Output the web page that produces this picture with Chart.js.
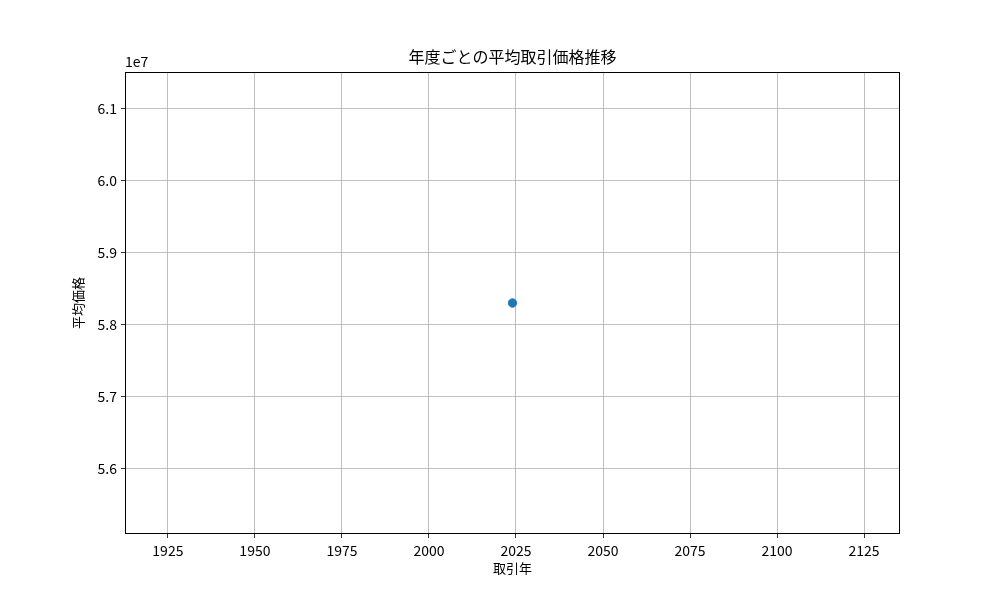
<!DOCTYPE html>
<html><head><meta charset="utf-8">
<script src="https://cdn.jsdelivr.net/npm/chart.js@4"></script>
<style>html,body{margin:0;padding:0;background:#fff}#wrap{width:1000px;height:600px}</style>
</head><body><div id="wrap"><canvas id="c" width="1000" height="600"></canvas></div>
<script>
const years = [2024];
const avgPrice = [58300000];
const xTicks = [1925, 1950, 1975, 2000, 2025, 2050, 2075, 2100, 2125];
const yTicks = [56000000, 57000000, 58000000, 59000000, 60000000, 61000000];
const titleText = '年度ごとの平均取引価格推移';
const xLabel = '取引年';
const yLabel = '平均価格';
const offsetText = '1e7';

const FONT = '"Noto Sans CJK JP", "DejaVu Sans", sans-serif';

const textPlugin = {
  id: 'texts',
  afterDraw(chart) {
    const {ctx, chartArea: a} = chart;
    ctx.save();
    ctx.strokeStyle = '#000';
    ctx.lineWidth = 1;
    ctx.strokeRect(a.left + 0.5, a.top + 0.5, a.right - a.left - 1, a.bottom - a.top - 1);
    ctx.fillStyle = '#000';
    ctx.textAlign = 'center';
    ctx.textBaseline = 'middle';
    ctx.font = '16px ' + FONT;
    ctx.fillText(titleText, (a.left + a.right) / 2, 57);
    ctx.font = '13px ' + FONT;
    ctx.fillText(xLabel, (a.left + a.right) / 2, 568);
    ctx.save();
    ctx.translate(78, (a.top + a.bottom) / 2);
    ctx.rotate(-Math.PI / 2);
    ctx.fillText(yLabel, 0, 0);
    ctx.restore();
    ctx.textAlign = 'left';
    ctx.font = '14px ' + FONT;
    ctx.fillText(offsetText, a.left, 62);
    ctx.restore();
  }
};

new Chart(document.getElementById('c'), {
  type: 'scatter',
  data: {
    datasets: [{
      data: years.map((y, i) => ({x: y, y: avgPrice[i]})),
      backgroundColor: '#1f77b4',
      borderColor: '#1f77b4',
      pointRadius: 4.2,
      pointHoverRadius: 4.2
    }]
  },
  options: {
    responsive: false,
    animation: false,
    layout: {padding: {left: 0, right: 100, top: 72, bottom: 0}},
    plugins: {legend: {display: false}, tooltip: {enabled: false}, title: {display: false}},
    scales: {
      x: {
        type: 'linear',
        min: 1912.68, max: 2135.32,
        afterBuildTicks: s => { s.ticks = xTicks.map(v => ({value: v})); },
        afterFit: s => { s.height = 66; },
        border: {display: false},
        grid: {color: '#b0b0b0', lineWidth: 0.8, tickColor: '#000', tickLength: 4},
        ticks: {color: '#000', font: {family: FONT, size: 14}, padding: 4, maxRotation: 0,
          callback: v => String(v)}
      },
      y: {
        type: 'linear',
        min: 55093500, max: 61506500,
        afterBuildTicks: s => { s.ticks = yTicks.map(v => ({value: v})); },
        afterFit: s => { s.width = 125; },
        border: {display: false},
        grid: {color: '#b0b0b0', lineWidth: 0.8, tickColor: '#000', tickLength: 4},
        ticks: {color: '#000', font: {family: FONT, size: 14}, padding: 4,
          callback: v => (v / 1e7).toFixed(1)}
      }
    }
  },
  plugins: [textPlugin]
});
</script></body></html>
